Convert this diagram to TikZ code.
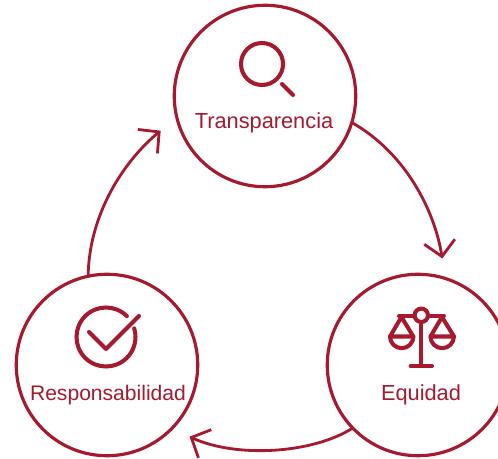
\documentclass[tikz,border=0pt]{standalone}
\usepackage{fontspec}
\setmainfont{Liberation Sans}
\usetikzlibrary{arrows.meta}
\definecolor{wine}{HTML}{A6192E}
\tikzset{
	stagecircle/.style={circle, draw=wine, line width=1.8pt, minimum size=3.63cm, inner sep=0pt, outer sep=0pt},
	stagelabel/.style={text=wine, font=\fontsize{12.4}{14}\selectfont, inner sep=0pt, anchor=base},
	linkarrow/.style={draw=wine, line width=1.6pt, line cap=round, -{Straight Barb[length=3mm, width=6.2mm, line width=1.6pt]}},
	iconline/.style={draw=wine, line width=2.3pt, line cap=round, line join=round},
}
\begin{document}
\begin{tikzpicture}[x=0.02cm, y=-0.02cm]
	\useasboundingbox (0, 0) rectangle (498, 459);
	% circles
	\node[stagecircle] (transp) at (265, 96) {};
	\node[stagecircle] (equi) at (418, 365) {};
	\node[stagecircle] (resp) at (107, 365) {};
	% labels
	\node[stagelabel] (transplabel) at (264, 129) {Transparencia};
	\node[stagelabel] (equilabel) at (421, 401) {Equidad};
	\node[stagelabel, font=\fontsize{12}{14}\selectfont] (resplabel) at (108, 401) {Responsabilidad};
	% arrow ends
	\coordinate (equitip) at (442.3, 258.5);
	\coordinate (resptip) at (189.5, 436.7);
	\coordinate (transptip) at (160.7, 130.7);
	\draw[linkarrow] (transp.-17) .. controls (404, 152) and (434, 208) .. (equitip);
	\draw[linkarrow] (equi.224) .. controls (312, 454) and (236, 458) .. (resptip);
	\draw[linkarrow] (resp.102.5) .. controls (89, 213) and (125, 160) .. (transptip);
	% magnifier
	\draw[iconline] (262, 64) circle (21);
	\draw[iconline] (282, 84) -- (293, 95);
	% check
	\draw[iconline] (106, 337) ++(-45:29.5) arc[start angle=-45, end angle=-377, radius=29.5];
	\draw[iconline] (89, 332) -- (106, 349) -- (139, 316);
	% scales
	\draw[iconline] (399, 316) -- (414.5, 316);
	\draw[iconline] (428, 316) -- (444, 316);
	\draw[iconline] (421.3, 315.3) circle (6.7);
	\draw[iconline] (421.3, 322) -- (421.3, 366);
	\draw[iconline] (410.7, 366) -- (432, 366);
	\draw[iconline] (390, 336.5) -- (401.5, 317) -- (413.3, 336.5) -- cycle;
	\draw[iconline] (390, 336.5) arc[start angle=180, end angle=0, radius=11.7];
	\draw[iconline] (430.5, 336.5) -- (442, 317) -- (454, 336.5) -- cycle;
	\draw[iconline] (430.5, 336.5) arc[start angle=180, end angle=0, radius=11.7];
\end{tikzpicture}
\end{document}
